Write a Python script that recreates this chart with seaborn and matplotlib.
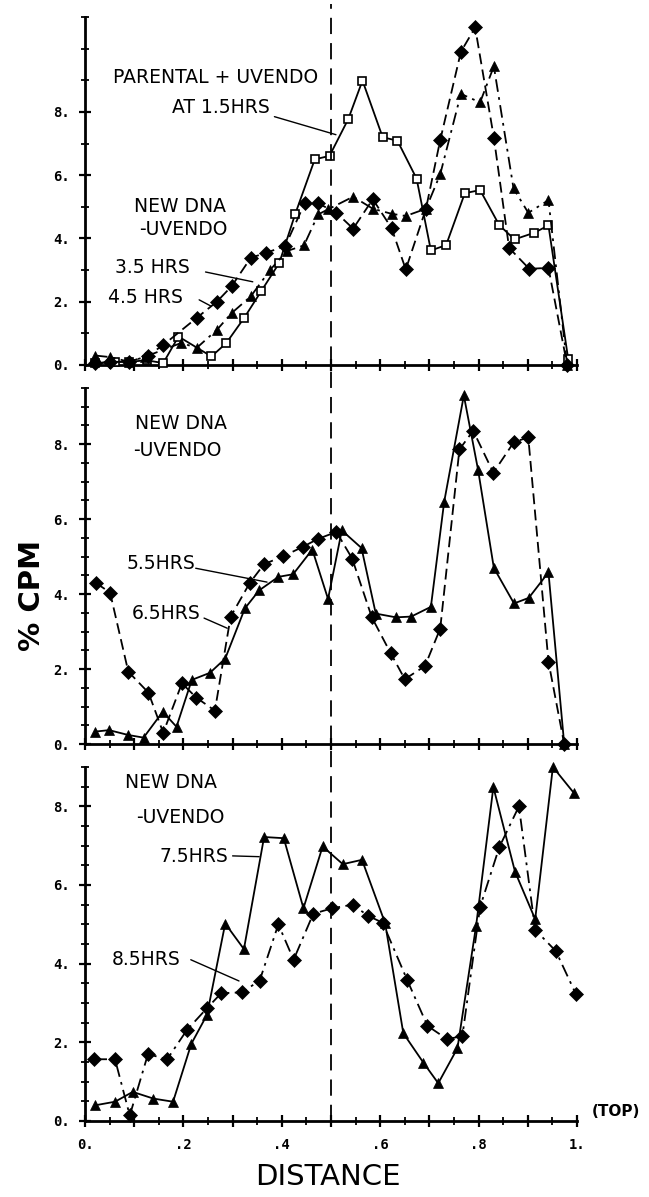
import matplotlib
matplotlib.use("Agg")
import matplotlib.pyplot as plt
import seaborn as sns
import numpy as np
from matplotlib import transforms
from matplotlib.lines import Line2D

# ---------------- data ----------------
# Top panel
top_sq_x = [0.02, 0.06, 0.09, 0.125, 0.159, 0.19, 0.257, 0.287, 0.324, 0.358, 0.395, 0.427, 0.467, 0.497,
            0.535, 0.564, 0.605, 0.635, 0.674, 0.703, 0.734, 0.772, 0.803, 0.842, 0.873, 0.913, 0.942, 0.982]
top_sq_y = [0.05, 0.1, 0.1, 0.15, 0.06, 0.9, 0.27, 0.69, 1.5, 2.33, 3.23, 4.76, 6.5, 6.61,
            7.77, 8.99, 7.2, 7.09, 5.89, 3.62, 3.79, 5.43, 5.53, 4.42, 3.97, 4.18, 4.41, 0.2]
top_di_x = [0.02, 0.05, 0.09, 0.128, 0.159, 0.227, 0.268, 0.298, 0.337, 0.367, 0.407, 0.447, 0.474, 0.511,
            0.545, 0.585, 0.623, 0.652, 0.693, 0.722, 0.764, 0.793, 0.831, 0.862, 0.903, 0.942, 0.98]
top_di_y = [0.05, 0.1, 0.1, 0.3, 0.63, 1.49, 2.0, 2.49, 3.39, 3.54, 3.76, 5.13, 5.11, 4.81,
            4.31, 5.24, 4.33, 3.02, 4.94, 7.11, 9.9, 10.67, 7.19, 3.7, 3.04, 3.07, 0.0]
top_tr_x = [0.02, 0.051, 0.09, 0.122, 0.196, 0.227, 0.268, 0.298, 0.337, 0.376, 0.41, 0.445, 0.474, 0.494,
            0.545, 0.585, 0.623, 0.652, 0.693, 0.722, 0.764, 0.803, 0.831, 0.871, 0.901, 0.942, 0.98]
top_tr_y = [0.3, 0.25, 0.1, 0.26, 0.7, 0.54, 1.11, 1.64, 2.17, 3.0, 3.6, 3.78, 4.76, 4.92,
            5.32, 4.94, 4.78, 4.71, 4.94, 6.03, 8.57, 8.3, 9.44, 5.58, 4.81, 5.21, 0.0]

# Middle panel
mid_di_x = [0.022, 0.051, 0.088, 0.129, 0.159, 0.197, 0.226, 0.264, 0.296, 0.335, 0.364, 0.403, 0.444, 0.473,
            0.511, 0.543, 0.583, 0.621, 0.65, 0.691, 0.722, 0.761, 0.789, 0.83, 0.872, 0.901, 0.942, 0.974]
mid_di_y = [4.3, 4.04, 1.93, 1.37, 0.3, 1.62, 1.24, 0.89, 3.4, 4.3, 4.8, 5.01, 5.27, 5.47,
            5.66, 4.95, 3.38, 2.43, 1.73, 2.08, 3.08, 7.86, 8.36, 7.24, 8.06, 8.18, 2.2, 0.0]
mid_tr_x = [0.02, 0.049, 0.088, 0.119, 0.158, 0.186, 0.217, 0.254, 0.285, 0.325, 0.354, 0.393, 0.423, 0.462,
            0.494, 0.522, 0.562, 0.591, 0.632, 0.663, 0.703, 0.73, 0.77, 0.799, 0.831, 0.872, 0.902, 0.942, 0.974]
mid_tr_y = [0.33, 0.37, 0.24, 0.17, 0.86, 0.46, 1.71, 1.9, 2.28, 3.62, 4.1, 4.46, 4.53, 5.19,
            3.87, 5.7, 5.23, 3.48, 3.38, 3.4, 3.66, 6.46, 9.3, 7.31, 4.7, 3.75, 3.9, 4.58, 0.0]

# Bottom panel
bot_tr_x = [0.021, 0.061, 0.097, 0.139, 0.179, 0.216, 0.248, 0.285, 0.323, 0.364, 0.404, 0.444, 0.483,
            0.524, 0.563, 0.61, 0.647, 0.688, 0.718, 0.757, 0.795, 0.83, 0.874, 0.915, 0.951, 0.993]
bot_tr_y = [0.4, 0.49, 0.74, 0.57, 0.49, 1.96, 2.7, 5.02, 4.37, 7.22, 7.19, 5.41, 6.98,
            6.53, 6.64, 5.03, 2.23, 1.48, 0.96, 1.85, 4.97, 8.49, 6.34, 5.13, 9.0, 8.35]
bot_di_x = [0.019, 0.061, 0.091, 0.128, 0.167, 0.207, 0.248, 0.277, 0.319, 0.355, 0.393, 0.424, 0.464, 0.503,
            0.544, 0.575, 0.605, 0.655, 0.696, 0.736, 0.767, 0.803, 0.842, 0.882, 0.915, 0.957, 0.998]
bot_di_y = [1.57, 1.57, 0.14, 1.7, 1.57, 2.31, 2.87, 3.25, 3.27, 3.57, 5.0, 4.1, 5.27, 5.41,
            5.5, 5.22, 5.04, 3.58, 2.42, 2.08, 2.16, 5.44, 6.96, 8.0, 4.86, 4.32, 3.22]

x_tick_labels = ["0.", "", ".2", "", ".4", "", ".6", "", ".8", "", "1."]
y_tick_labels = ["0.", "2.", "4.", "6.", "8."]

# ---------------- style ----------------
sns.set_theme(style="ticks")
plt.rcParams['font.family'] = ['DejaVu Sans']
plt.rcParams['text.color'] = 'black'
plt.rcParams['xtick.labelcolor'] = 'black'
plt.rcParams['ytick.labelcolor'] = 'black'

W, H = 649, 1197
fig = plt.figure(figsize=(W / 100, H / 100), dpi=100)

def frac_rect(left, right, top, bottom):
    return [left / W, 1 - bottom / H, (right - left) / W, (bottom - top) / H]

ax1 = fig.add_axes(frac_rect(85, 577, 17, 365))
ax2 = fig.add_axes(frac_rect(85, 577, 388, 744))
ax3 = fig.add_axes(frac_rect(85, 577, 767, 1121))

tick_font = dict(family='DejaVu Sans Mono', weight='bold', size=10, color='black')

def style_axis(ax, ymax, minor_step, show_xlabels):
    ax.set_xlim(0, 1.0)
    ax.set_ylim(0, ymax)
    ax.set_facecolor('white')
    for s in ['top', 'right']:
        ax.spines[s].set_visible(False)
    for s in ['left', 'bottom']:
        ax.spines[s].set_linewidth(2.0)
        ax.spines[s].set_color('black')
    ax.set_xticks(np.round(np.arange(0, 1.01, 0.1), 2))
    ax.set_xticks(np.round(np.arange(0.05, 1.0, 0.1), 2), minor=True)
    ax.set_yticks([0, 2, 4, 6, 8])
    ax.set_yticks(np.arange(0, ymax + 0.01, minor_step), minor=True)
    ax.set_yticklabels(y_tick_labels, fontdict=tick_font)
    if show_xlabels:
        ax.set_xticklabels(x_tick_labels, fontdict=tick_font)
    else:
        ax.set_xticklabels([])
    ax.tick_params(axis='both', which='major', direction='inout', length=8, width=1.6,
                   color='black', labelcolor='black', pad=7)
    ax.tick_params(axis='both', which='minor', direction='inout', length=6, width=1.3, color='black')
    ax.tick_params(axis='x', which='major', pad=8)
    ax.set_xlabel('')
    ax.set_ylabel('')

style_axis(ax1, 11, 1, False)
style_axis(ax2, 9.5, 0.5, False)
style_axis(ax3, 9, 0.5, True)

lw = 1.3

def draw(ax, x, y, marker, ls, ms, open_marker=False):
    kw = dict(color='black', marker=marker, markersize=ms, linewidth=lw,
              markeredgecolor='black', markeredgewidth=1.2 if open_marker else 0.5,
              markerfacecolor='white' if open_marker else 'black', clip_on=False, zorder=3)
    line = sns.lineplot(x=x, y=y, ax=ax, estimator=None, sort=False, **kw)
    line.lines[-1].set_linestyle(ls)

dash = (0, (6, 3))
dashdot = (0, (7, 3, 1.5, 3))

# Top panel
draw(ax1, top_sq_x, top_sq_y, 's', '-', 6, open_marker=True)
draw(ax1, top_di_x, top_di_y, 'D', dash, 6.8)
draw(ax1, top_tr_x, top_tr_y, '^', dashdot, 7.5)
# Middle
draw(ax2, mid_di_x, mid_di_y, 'D', dash, 6.8)
draw(ax2, mid_tr_x, mid_tr_y, '^', '-', 7.5)
# Bottom
draw(ax3, bot_tr_x, bot_tr_y, '^', '-', 7.5)
draw(ax3, bot_di_x, bot_di_y, 'D', dashdot, 6.8)

# Dashed vertical line through all panels at x = 0.5
trans = transforms.blended_transform_factory(ax3.transData, fig.transFigure)
fig.add_artist(Line2D([0.5, 0.5], [1 - 1121 / H, 1 - 4 / H], transform=trans,
                      color='black', lw=1.3, linestyle=(0, (9, 5)), zorder=1))

# ---------------- annotations ----------------
afont = dict(family='DejaVu Sans', size=13.5, color='black')
lk = dict(color='black', lw=1.0)

ax1.text(0.266, 9.08, "PARENTAL + UVENDO", ha='center', va='center', **afont)
ax1.text(0.276, 8.13, "AT 1.5HRS", ha='center', va='center', **afont)
ax1.plot([0.385, 0.510], [7.85, 7.28], **lk)
ax1.text(0.193, 5.0, "NEW DNA", ha='center', va='center', **afont)
ax1.text(0.2, 4.27, "-UVENDO", ha='center', va='center', **afont)
ax1.text(0.061, 3.07, "3.5 HRS", ha='left', va='center', **afont)
ax1.plot([0.245, 0.341], [2.94, 2.63], **lk)
ax1.text(0.047, 2.12, "4.5 HRS", ha='left', va='center', **afont)
ax1.plot([0.232, 0.255], [2.06, 1.87], **lk)

ax2.text(0.195, 8.56, "NEW DNA", ha='center', va='center', **afont)
ax2.text(0.187, 7.84, "-UVENDO", ha='center', va='center', **afont)
ax2.text(0.085, 4.83, "5.5HRS", ha='left', va='center', **afont)
ax2.plot([0.225, 0.37], [4.69, 4.32], **lk)
ax2.text(0.096, 3.49, "6.5HRS", ha='left', va='center', **afont)
ax2.plot([0.242, 0.289], [3.36, 3.09], **lk)

ax3.text(0.175, 8.6, "NEW DNA", ha='center', va='center', **afont)
ax3.text(0.193, 7.71, "-UVENDO", ha='center', va='center', **afont)
ax3.text(0.152, 6.72, "7.5HRS", ha='left', va='center', **afont)
ax3.plot([0.3, 0.354], [6.74, 6.72], **lk)
ax3.text(0.055, 4.1, "8.5HRS", ha='left', va='center', **afont)
ax3.plot([0.215, 0.313], [4.1, 3.56], **lk)
ax3.text(1.03, 0.23, "(TOP)", ha='left', va='center', clip_on=False,
         family='DejaVu Sans', size=11, weight='bold', color='black')

fig.text(32 / W, 1 - 595 / H, "% CPM", rotation=90, ha='center', va='center',
         family='DejaVu Sans', size=21, weight='bold', color='black')
fig.text(328 / W, 1 - 1177 / H, "DISTANCE", ha='center', va='center',
         family='DejaVu Sans', size=21, color='black')

fig.savefig("out.png", dpi=100, facecolor='white')
